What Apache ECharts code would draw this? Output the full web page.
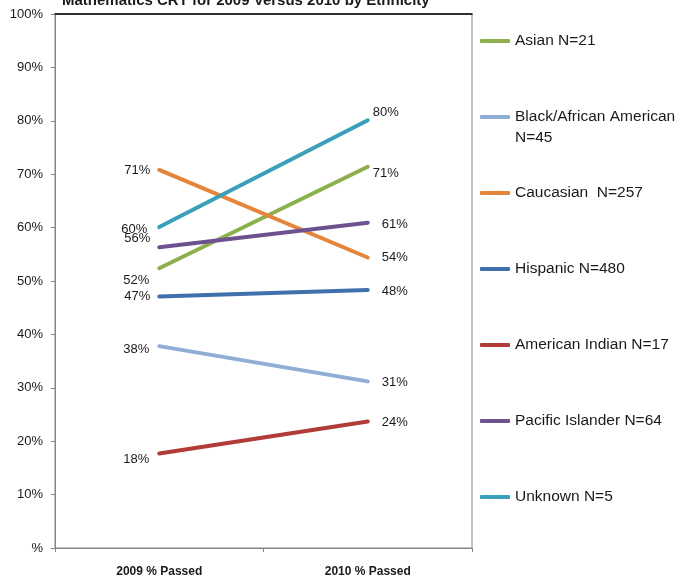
<!DOCTYPE html>
<html>
<head>
<meta charset="utf-8">
<title>Mathematics CRT 2009 vs 2010</title>
<script src="https://cdn.jsdelivr.net/npm/echarts@6/dist/echarts.min.js"></script>
<style>
  html, body { margin: 0; padding: 0; background: #fff; }
  #chart { width: 687px; height: 580px; }
</style>
</head>
<body>
<div id="chart"></div>
<script>
// Categories on the x axis
const categories = ['2009 % Passed', '2010 % Passed'];

// Group names (legend entries)
const groupNames = [
  'Asian N=21',
  'Black/African American\nN=45',
  'Caucasian  N=257',
  'Hispanic N=480',
  'American Indian N=17',
  'Pacific Islander N=64',
  'Unknown N=5'
];

// Percent passed, [2009, 2010]
const asian = [52.4, 71.4];
const black = [37.8, 31.2];
const caucasian = [70.8, 54.4];
const hispanic = [47.1, 48.3];
const americanIndian = [17.7, 23.7];
const pacificIslander = [56.3, 60.9];
const unknown = [60.1, 80.1];

// Y axis tick labels (0 to 100 by 10)
const yTickLabels = ['%', '10%', '20%', '30%', '40%', '50%', '60%', '70%', '80%', '90%', '100%'];

const seriesValues = [asian, black, caucasian, hispanic, americanIndian, pacificIslander, unknown];

// Presentation: line colours and label nudges
const colors = ['#8DB04D', '#8FAED6', '#E5853A', '#3F70AC', '#B23B38', '#6E5290', '#3A9FB8'];
const nudgeLeft = [[0, 12], [0, 3], [1, 0], [1, 0], [0, 6], [1, -9], [-2, 2]];
const nudgeRight = [[-9, 7], [0, 1], [0, 0], [0, 1], [0, 1], [0, 2], [-9, -8]];

const textColor = '#1a1a1a';
const fontFamily = '"Liberation Sans", Arial, sans-serif';

const series = seriesValues.map((vals, i) => ({
  name: groupNames[i],
  type: 'line',
  symbol: 'circle',
  symbolSize: 0,
  lineStyle: { width: 4, color: colors[i], cap: 'round' },
  itemStyle: { color: colors[i] },
  emphasis: { disabled: true },
  data: vals.map((v, j) => ({
    value: v,
    label: {
      show: true,
      position: j === 0 ? 'left' : 'right',
      distance: j === 0 ? 10 : 14,
      offset: j === 0 ? nudgeLeft[i] : nudgeRight[i],
      formatter: p => Math.round(p.value) + '%',
      color: textColor,
      fontSize: 13,
      fontFamily: fontFamily
    }
  }))
}));

const chart = echarts.init(document.getElementById('chart'), null, { renderer: 'canvas' });

chart.setOption({
  animation: false,
  backgroundColor: '#ffffff',
  title: {
    text: 'Mathematics CRT for 2009 Versus 2010 by Ethnicity',
    left: 62,
    top: -7,
    padding: 0,
    textStyle: { fontSize: 15, fontWeight: 'bold', color: textColor, fontFamily: fontFamily }
  },
  grid: {
    left: 55, right: 215, top: 14, bottom: 32,
    show: true, borderColor: '#868686', borderWidth: 1, backgroundColor: 'transparent'
  },
  legend: {
    orient: 'vertical',
    left: 480,
    top: 9.5,
    padding: 0,
    itemGap: 13,
    itemWidth: 30,
    itemHeight: 4,
    icon: 'roundRect',
    data: groupNames,
    // three text rows per entry so the icon sits beside the first name row
    formatter: name => ' \n' + (name.indexOf('\n') >= 0 ? name : name + '\n '),
    textStyle: {
      fontSize: 15.5,
      lineHeight: 21,
      color: textColor,
      fontFamily: fontFamily
    },
    selectedMode: false
  },
  xAxis: [{
    type: 'category',
    data: categories,
    boundaryGap: true,
    axisLine: { lineStyle: { color: '#868686', width: 1 } },
    axisTick: { show: true, length: 4, lineStyle: { color: '#868686' } },
    axisLabel: { margin: 18, fontSize: 12, fontWeight: 'bold', color: textColor, fontFamily: fontFamily },
    splitLine: { show: false }
  }, {
    type: 'category',
    position: 'top',
    data: categories,
    axisLine: { show: true, lineStyle: { color: '#000000', width: 1.5 } },
    axisTick: { show: false },
    axisLabel: { show: false },
    splitLine: { show: false }
  }],
  yAxis: {
    type: 'value',
    min: 0,
    max: 100,
    interval: 10,
    axisLine: { show: true, lineStyle: { color: '#868686', width: 1 } },
    axisTick: { show: true, length: 4, lineStyle: { color: '#868686' } },
    axisLabel: {
      margin: 12,
      fontSize: 13,
      color: textColor,
      fontFamily: fontFamily,
      formatter: v => yTickLabels[Math.round(v / 10)]
    },
    splitLine: { show: false }
  },
  series: series
});
</script>
</body>
</html>
